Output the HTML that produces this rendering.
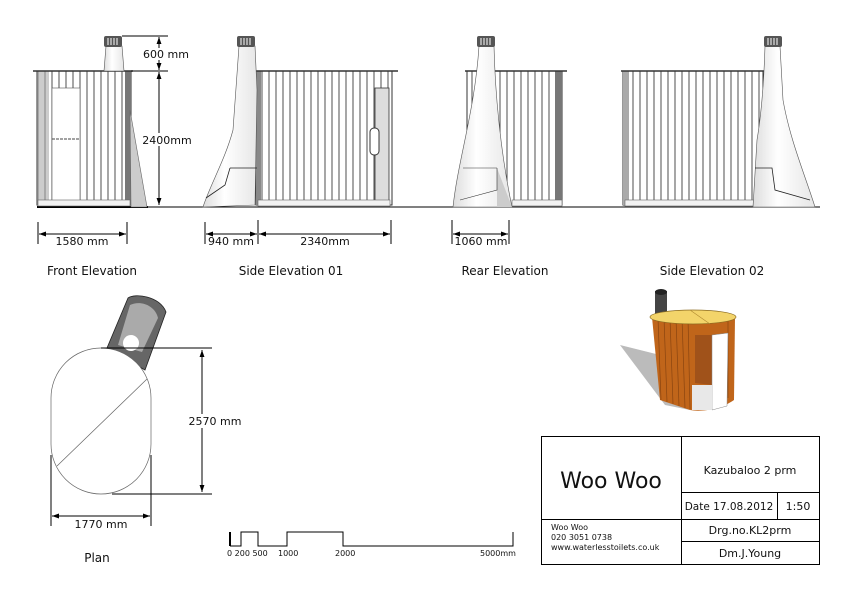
<!DOCTYPE html>
<html><head><meta charset="utf-8"><style>
html,body{margin:0;padding:0;background:#fff;}
svg{display:block;font-family:"DejaVu Sans","Liberation Sans",sans-serif;}
</style></head><body>
<svg width="842" height="596" viewBox="0 0 842 596" xmlns="http://www.w3.org/2000/svg">
<defs>
<pattern id="slats" width="7" height="10" patternUnits="userSpaceOnUse">
<rect width="7" height="10" fill="#fff"/><line x1="3" y1="0" x2="3" y2="10" stroke="#222" stroke-width="0.8"/>
</pattern>
<marker id="ar" viewBox="0 0 10 10" refX="10" refY="5" markerWidth="7" markerHeight="7" orient="auto-start-reverse"><path d="M0,1.5 L10,5 L0,8.5 z" fill="#000"/></marker>
<linearGradient id="cone" x1="0" x2="1"><stop offset="0" stop-color="#ddd"/><stop offset="0.4" stop-color="#fff"/><stop offset="1" stop-color="#e6e6e6"/></linearGradient>
</defs>

<!-- ground -->
<line x1="37" y1="207" x2="820" y2="207" stroke="#000" stroke-width="1"/>
<line x1="37" y1="207" x2="148" y2="207" stroke="#000" stroke-width="2"/>

<!-- FRONT ELEVATION -->
<rect x="37" y="71" width="94" height="134" fill="url(#slats)" stroke="#333"/>
<rect x="37" y="71" width="12" height="134" fill="#aaa" opacity="0.6"/>
<rect x="52" y="88" width="28" height="113" fill="#fff" stroke="#555" stroke-width="0.6"/>
<line x1="52" y1="139" x2="80" y2="139" stroke="#444" stroke-dasharray="3,1"/>
<rect x="125" y="71" width="6" height="134" fill="#777"/>
<line x1="33" y1="71" x2="133" y2="71" stroke="#333" stroke-width="1.5"/>
<rect x="38" y="200" width="92" height="6" fill="#f2f2f2" stroke="#666" stroke-width="0.6"/>
<path d="M130,110 L147,207 L131,207 Z" fill="#ccc" stroke="#666" stroke-width="0.6"/>
<path d="M106,46 L122,46 L124,71 L104,71 Z" fill="url(#cone)" stroke="#555" stroke-width="0.6"/>
<rect x="104" y="36" width="18" height="11" rx="2" fill="#555"/>
<g stroke="#fff" stroke-width="1"><line x1="108" y1="38" x2="108" y2="45"/><line x1="111" y1="38" x2="111" y2="45"/><line x1="114" y1="38" x2="114" y2="45"/><line x1="117" y1="38" x2="117" y2="45"/></g>

<!-- dims -->
<g stroke="#000" stroke-width="1">
<line x1="122" y1="36" x2="168" y2="36"/>
<line x1="131" y1="71" x2="168" y2="71"/>
<line x1="159" y1="37" x2="159" y2="70" marker-start="url(#ar)" marker-end="url(#ar)"/>
<line x1="159" y1="72" x2="159" y2="205" marker-start="url(#ar)" marker-end="url(#ar)"/>
<line x1="38" y1="222" x2="38" y2="244"/><line x1="127" y1="222" x2="127" y2="244"/>
<line x1="39" y1="234" x2="126" y2="234" marker-start="url(#ar)" marker-end="url(#ar)"/>
<line x1="205" y1="222" x2="205" y2="244"/><line x1="258" y1="220" x2="258" y2="244"/><line x1="391" y1="220" x2="391" y2="244"/>
<line x1="206" y1="234" x2="257" y2="234" marker-start="url(#ar)" marker-end="url(#ar)"/>
<line x1="259" y1="234" x2="390" y2="234" marker-start="url(#ar)" marker-end="url(#ar)"/>
<line x1="452" y1="220" x2="452" y2="244"/><line x1="509" y1="220" x2="509" y2="244"/>
<line x1="453" y1="234" x2="508" y2="234" marker-start="url(#ar)" marker-end="url(#ar)"/>
</g>
<g font-size="11" fill="#111" text-anchor="middle">
<rect x="144" y="48" width="46" height="12" fill="#fff"/>
<text x="166" y="58">600 mm</text>
<rect x="143" y="133" width="48" height="13" fill="#fff"/>
<text x="167" y="144">2400mm</text>
<text x="82" y="245">1580 mm</text>
<text x="231" y="245">940 mm</text>
<text x="325" y="245">2340mm</text>
<text x="481" y="245">1060 mm</text>
</g>

<!-- SIDE ELEVATION 01 -->
<rect x="256" y="71" width="136" height="134" fill="url(#slats)" stroke="#333"/>
<rect x="256" y="71" width="5" height="134" fill="#888"/>
<rect x="375" y="88" width="14" height="116" fill="#ddd" stroke="#333" stroke-width="0.8"/>
<rect x="370" y="128" width="9" height="27" rx="4" fill="#fff" stroke="#333"/>
<line x1="252" y1="71" x2="398" y2="71" stroke="#333" stroke-width="1.5"/>
<rect x="258" y="200" width="132" height="6" fill="#f2f2f2" stroke="#666" stroke-width="0.6"/>
<path d="M239,46 L255,46 L257,90 L255,205 L203,207 C210,185 225,160 233,130 Z" fill="url(#cone)" stroke="#555" stroke-width="0.6"/>
<path d="M230,168 L257,168 M230,168 L225,185 L206,198" fill="none" stroke="#222" stroke-width="0.8"/>
<rect x="237" y="36" width="18" height="11" rx="2" fill="#555"/>
<g stroke="#fff"><line x1="241" y1="38" x2="241" y2="45"/><line x1="244" y1="38" x2="244" y2="45"/><line x1="247" y1="38" x2="247" y2="45"/><line x1="250" y1="38" x2="250" y2="45"/></g>

<!-- REAR ELEVATION -->
<rect x="467" y="71" width="95" height="134" fill="url(#slats)" stroke="#333"/>
<rect x="555" y="71" width="7" height="134" fill="#777"/>
<line x1="465" y1="71" x2="567" y2="71" stroke="#333" stroke-width="1.5"/>
<rect x="512" y="200" width="50" height="6" fill="#f2f2f2" stroke="#666" stroke-width="0.6"/>
<path d="M479,46 L494,46 C495,90 500,150 512,207 L453,207 C458,160 475,110 479,46 Z" fill="url(#cone)" stroke="#555" stroke-width="0.6"/>
<path d="M497,168 L512,207 L497,207 Z" fill="#ccc"/>
<path d="M463,168 L497,168 M497,168 L497,190 L460,200" fill="none" stroke="#333" stroke-width="0.6"/>
<rect x="477" y="36" width="18" height="11" rx="2" fill="#555"/>
<g stroke="#fff"><line x1="481" y1="38" x2="481" y2="45"/><line x1="484" y1="38" x2="484" y2="45"/><line x1="487" y1="38" x2="487" y2="45"/><line x1="490" y1="38" x2="490" y2="45"/></g>

<!-- SIDE ELEVATION 02 -->
<rect x="623" y="71" width="140" height="134" fill="url(#slats)" stroke="#333"/>
<rect x="623" y="71" width="6" height="134" fill="#aaa"/>
<line x1="621" y1="71" x2="764" y2="71" stroke="#333" stroke-width="1.5"/>
<rect x="625" y="200" width="135" height="6" fill="#f2f2f2" stroke="#666" stroke-width="0.6"/>
<path d="M765,46 L780,46 L783,100 C790,140 805,175 815,207 L753,207 L757,140 C762,110 764,80 765,46 Z" fill="url(#cone)" stroke="#555" stroke-width="0.6"/>
<path d="M755,168 L772,168 L775,190 L810,200" fill="none" stroke="#222" stroke-width="0.8"/>
<rect x="764" y="36" width="18" height="11" rx="2" fill="#555"/>
<g stroke="#fff"><line x1="768" y1="38" x2="768" y2="45"/><line x1="771" y1="38" x2="771" y2="45"/><line x1="774" y1="38" x2="774" y2="45"/><line x1="777" y1="38" x2="777" y2="45"/></g>

<!-- Labels -->
<g font-size="12" fill="#111" text-anchor="middle">
<text x="92" y="275">Front Elevation</text>
<text x="291" y="275">Side Elevation 01</text>
<text x="505" y="275">Rear Elevation</text>
<text x="712" y="275">Side Elevation 02</text>
<text x="97" y="562">Plan</text>
</g>

<!-- PLAN -->
<path d="M128,298 C135,293 160,296 166,312 L145,370 L107,348 Z" fill="#666" stroke="#222" stroke-width="0.8"/>
<path d="M130,305 C140,300 155,305 158,318 L142,352 L118,345 Z" fill="#aaa"/>
<circle cx="131" cy="343" r="8" fill="#fff"/>
<path d="M51,398 A50,50 0 0 1 151,398 L151,444 A50,50 0 0 1 51,444 Z" fill="#fff" stroke="#666" stroke-width="0.7"/>
<line x1="147" y1="379" x2="57" y2="466" stroke="#666" stroke-width="0.7"/>
<g stroke="#000" stroke-width="1">
<line x1="101" y1="348" x2="212" y2="348"/>
<line x1="112" y1="494" x2="212" y2="494"/>
<line x1="202" y1="350" x2="202" y2="492" marker-start="url(#ar)" marker-end="url(#ar)"/>
<line x1="51" y1="455" x2="51" y2="526"/><line x1="151" y1="455" x2="151" y2="526"/>
<line x1="52" y1="516" x2="150" y2="516" marker-start="url(#ar)" marker-end="url(#ar)"/>
</g>
<rect x="184" y="414" width="50" height="14" fill="#fff"/>
<text x="215" y="425" font-size="11" text-anchor="middle" fill="#111">2570 mm</text>
<text x="101" y="528" font-size="11" text-anchor="middle" fill="#111">1770 mm</text>

<!-- scale bar -->
<line x1="230" y1="532" x2="230" y2="546" stroke="#000" stroke-width="2"/>
<polyline points="230,546 241,546 241,532 258,532 258,546 287,546 287,532 343,532 343,546 513,546 513,532" fill="none" stroke="#000" stroke-width="1"/>
<g font-size="8" fill="#111">
<text x="227" y="556">0 200 500</text>
<text x="278" y="556">1000</text>
<text x="335" y="556">2000</text>
<text x="480" y="556">5000mm</text>
</g>

<!-- 3D view -->
<path d="M620,345 L660,355 L690,410 L665,405 Z" fill="#bbb"/>
<rect x="655" y="291" width="12" height="25" fill="#444"/>
<ellipse cx="661" cy="292" rx="6" ry="3" fill="#222"/>
<path d="M652,317 L735,317 L734,400 C720,410 700,412 690,410 L660,400 Z" fill="#c0651a"/>
<g stroke="#8a4510" stroke-width="0.7">
<line x1="658" y1="318" x2="661" y2="400"/><line x1="664" y1="318" x2="667" y2="402"/><line x1="670" y1="318" x2="673" y2="404"/><line x1="676" y1="318" x2="679" y2="406"/><line x1="682" y1="318" x2="685" y2="408"/><line x1="688" y1="318" x2="690" y2="409"/><line x1="728" y1="318" x2="728" y2="398"/>
</g>
<path d="M695,335 L712,335 L712,385 L695,383 Z" fill="#a0521a"/>
<path d="M712,335 L728,333 L727,406 L712,410 Z" fill="#fff" stroke="#888" stroke-width="0.5"/>
<path d="M692,385 L712,385 L712,410 L692,410 Z" fill="#e8e8e8"/>
<ellipse cx="693" cy="317" rx="43" ry="7" fill="#f3d46a" stroke="#8a6a20" stroke-width="0.7"/>
<line x1="690" y1="310" x2="710" y2="324" stroke="#b08a30" stroke-width="0.6"/>

<!-- title block -->
<g stroke="#000" stroke-width="1" fill="none">
<rect x="541.5" y="436.5" width="278" height="128"/>
<line x1="681.5" y1="436" x2="681.5" y2="565"/>
<line x1="541" y1="519.5" x2="820" y2="519.5"/>
<line x1="681" y1="492.5" x2="820" y2="492.5"/>
<line x1="681" y1="541.5" x2="820" y2="541.5"/>
<line x1="777.5" y1="492" x2="777.5" y2="520"/>
</g>
<g fill="#111">
<text x="611" y="488" font-size="22" text-anchor="middle">Woo Woo</text>
<text x="750" y="474" font-size="11" text-anchor="middle">Kazubaloo 2 prm</text>
<text x="729" y="510" font-size="10.5" text-anchor="middle">Date 17.08.2012</text>
<text x="798" y="510" font-size="11" text-anchor="middle">1:50</text>
<text x="750" y="534" font-size="11" text-anchor="middle">Drg.no.KL2prm</text>
<text x="750" y="557" font-size="11" text-anchor="middle">Dm.J.Young</text>
<text x="551" y="530" font-size="8">Woo Woo</text>
<text x="551" y="540" font-size="8">020 3051 0738</text>
<text x="551" y="550" font-size="8">www.waterlesstoilets.co.uk</text>
</g>
</svg>
</body></html>
